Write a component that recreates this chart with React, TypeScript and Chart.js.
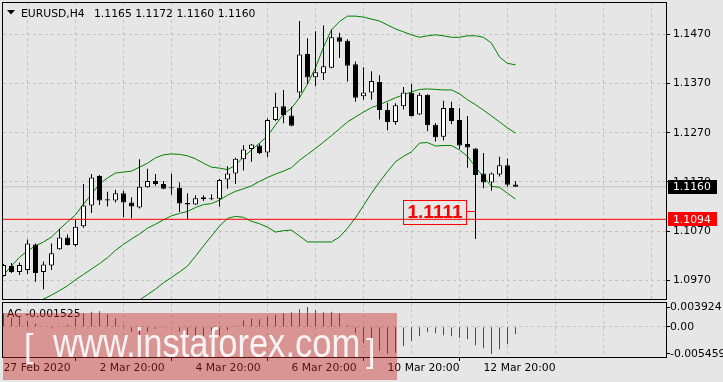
import React, { useEffect, useRef } from 'react';
import { Chart, registerables } from 'chart.js';

Chart.register(...registerables);

const W = 723;
const H = 382;

// ---------- text ----------
const symbolTitle = 'EURUSD,H4';
const headerQuote = '1.1165 1.1172 1.1160 1.1160';
const acTitle = 'AC -0.001525';
const watermarkText = 'www.instaforex.com';

// ---------- candles (H4, 27 Feb 2020 20:00 ... 13 Mar 2020) ----------
const opens = [
  1.0979, 1.0999, 1.0987, 1.0991, 1.1043, 1.0987, 1.1000, 1.1033, 1.1057, 1.1042,
  1.1080, 1.1122, 1.1182, 1.1135, 1.1132, 1.1147, 1.1128, 1.1118, 1.1159, 1.1172,
  1.1166, 1.1158, 1.1158, 1.1127, 1.1124, 1.1135, 1.1137, 1.1136, 1.1175, 1.1187,
  1.1216, 1.1237, 1.1244, 1.1230, 1.1296, 1.1324, 1.1305, 1.1352, 1.1430, 1.1383,
  1.1391, 1.1402, 1.1464, 1.1457, 1.1409, 1.1344, 1.1352, 1.1373, 1.1316, 1.1292,
  1.1324, 1.1351, 1.1307, 1.1347, 1.1286, 1.1262, 1.1320, 1.1296, 1.1247, 1.1238,
  1.1187, 1.1169, 1.1185, 1.1204, 1.1165,
];
const highs = [
  1.1003, 1.1005, 1.1006, 1.1053, 1.1045, 1.1008, 1.1045, 1.1075, 1.1063, 1.1093,
  1.1166, 1.1186, 1.1184, 1.1150, 1.1154, 1.1152, 1.1139, 1.1216, 1.1197, 1.1186,
  1.1172, 1.1187, 1.1169, 1.1147, 1.1143, 1.1143, 1.1145, 1.1176, 1.1202, 1.1219,
  1.1245, 1.1247, 1.1248, 1.1299, 1.1351, 1.1357, 1.1323, 1.1497, 1.1462, 1.1476,
  1.1488, 1.1480, 1.1473, 1.1460, 1.1415, 1.1403, 1.1395, 1.1387, 1.1331, 1.1330,
  1.1363, 1.1369, 1.1351, 1.1348, 1.1290, 1.1335, 1.1333, 1.1320, 1.1304, 1.1239,
  1.1229, 1.1189, 1.1221, 1.1217, 1.1172,
];
const lows = [
  1.0978, 1.0985, 1.0981, 1.0983, 1.0967, 1.0952, 1.0991, 1.1032, 1.1041, 1.1038,
  1.1077, 1.1107, 1.1123, 1.1120, 1.1128, 1.1098, 1.1096, 1.1116, 1.1158, 1.1162,
  1.1155, 1.1144, 1.1109, 1.1094, 1.1123, 1.1131, 1.1133, 1.1120, 1.1156, 1.1166,
  1.1193, 1.1211, 1.1226, 1.1220, 1.1294, 1.1289, 1.1283, 1.1341, 1.1369, 1.1365,
  1.1377, 1.1401, 1.1422, 1.1374, 1.1333, 1.1337, 1.1337, 1.1297, 1.1275, 1.1286,
  1.1317, 1.1303, 1.1306, 1.1273, 1.1252, 1.1254, 1.1287, 1.1237, 1.1199, 1.1054,
  1.1157, 1.1152, 1.1181, 1.1160, 1.1160,
];
const closes = [
  1.1001, 1.0987, 1.1001, 1.1045, 1.0985, 1.1002, 1.1025, 1.1057, 1.1042, 1.1079,
  1.1122, 1.1179, 1.1132, 1.1132, 1.1147, 1.1128, 1.1120, 1.1160, 1.1172, 1.1166,
  1.1156, 1.1157, 1.1126, 1.1124, 1.1137, 1.1139, 1.1135, 1.1174, 1.1187, 1.1217,
  1.1236, 1.1246, 1.1229, 1.1296, 1.1323, 1.1306, 1.1284, 1.1429, 1.1382, 1.1393,
  1.1405, 1.1464, 1.1455, 1.1406, 1.1341, 1.1352, 1.1375, 1.1316, 1.1292, 1.1326,
  1.1352, 1.1304, 1.1347, 1.1285, 1.1261, 1.1320, 1.1294, 1.1244, 1.1240, 1.1184,
  1.1169, 1.1187, 1.1204, 1.1164, 1.1160,
];

// ---------- Bollinger bands ----------
const bbUpper = [
  1.0981, 1.0999, 1.1017, 1.1030, 1.1040, 1.1048, 1.1058, 1.1074, 1.1089, 1.1103,
  1.1125, 1.1145, 1.1166, 1.1178, 1.1188, 1.1190, 1.1192, 1.1200, 1.1208, 1.1219,
  1.1225, 1.1227, 1.1226, 1.1223, 1.1217, 1.1208, 1.1200, 1.1198, 1.1195, 1.1204,
  1.1221, 1.1235, 1.1249, 1.1263, 1.1286, 1.1308, 1.1320, 1.1341, 1.1369, 1.1402,
  1.1444, 1.1479, 1.1496, 1.1507, 1.1507, 1.1505, 1.1501, 1.1497, 1.1489, 1.1481,
  1.1475, 1.1469, 1.1464, 1.1467, 1.1469, 1.1467, 1.1464, 1.1464, 1.1467, 1.1467,
  1.1464, 1.1452, 1.1424, 1.1411, 1.1408,
];
const bbMiddle = [
  1.0887, 1.0897, 1.0906, 1.0916, 1.0924, 1.0932, 1.0940, 1.0949, 1.0959, 1.0971,
  1.0982, 1.0993, 1.1004, 1.1016, 1.1031, 1.1043, 1.1054, 1.1064, 1.1076, 1.1084,
  1.1093, 1.1101, 1.1106, 1.1110, 1.1118, 1.1124, 1.1126, 1.1133, 1.1143, 1.1151,
  1.1156, 1.1162, 1.1171, 1.1179, 1.1186, 1.1192, 1.1199, 1.1214, 1.1226, 1.1238,
  1.1251, 1.1264, 1.1278, 1.1292, 1.1302, 1.1312, 1.1321, 1.1327, 1.1334, 1.1341,
  1.1347, 1.1353, 1.1358, 1.1359, 1.1358, 1.1357, 1.1357, 1.1349, 1.1337, 1.1327,
  1.1316, 1.1304, 1.1292, 1.1280, 1.1269,
];
const bbLower = [
  null, null, null, null, null, null, null, null, null, null,
  null, null, null, null, null, 1.0908, 1.0919, 1.0930, 1.0941, 1.0952,
  1.0965, 1.0976, 1.0987, 1.0999, 1.1019, 1.1040, 1.1060, 1.1080, 1.1096, 1.1100,
  1.1098, 1.1090, 1.1085, 1.1078, 1.1068, 1.1071, 1.1072, 1.1060, 1.1048, 1.1048,
  1.1048, 1.1048, 1.1058, 1.1076, 1.1097, 1.1122, 1.1147, 1.1170, 1.1191, 1.1211,
  1.1222, 1.1231, 1.1249, 1.1250, 1.1243, 1.1244, 1.1244, 1.1235, 1.1222, 1.1200,
  1.1180, 1.1161, 1.1159, 1.1147, 1.1135,
];

// ---------- Accelerator Oscillator ----------
const acValues = [
  0.0027, 0.0018, 0.0021, 0.0012, 0.0006, -0.0001, -0.0003, -0.0001, 0.0004, 0.0017,
  0.0027, 0.0030, 0.0031, 0.0025, 0.0017, 0.0003, -0.0010, -0.0017, -0.0010, -0.0004,
  -0.0002, 0.0001, -0.0010, -0.0022, -0.0027, -0.0030, -0.0024, -0.0017, -0.0007, 0.0002,
  0.0013, 0.0016, 0.0015, 0.0020, 0.0024, 0.0027, 0.0029, 0.0035, 0.003924, 0.0033,
  0.0029, 0.0030, 0.0027, 0.0003, -0.0013, -0.0033, -0.0039, -0.0048, -0.0054, -0.0052,
  -0.0039, -0.0028, -0.0019, -0.0011, -0.0013, -0.0017, -0.0019, -0.0022, -0.0025, -0.0037,
  -0.0043, -0.005459, -0.0045, -0.0035, -0.001525,
];
const acUp = [
  1, 1, 0, 0, 0, 0, 0, 1, 1, 1,
  1, 1, 1, 0, 0, 0, 0, 0, 1, 1,
  1, 1, 0, 0, 0, 0, 1, 1, 1, 1,
  1, 1, 0, 1, 1, 1, 1, 1, 1, 0,
  0, 1, 0, 0, 0, 0, 0, 0, 0, 1,
  1, 1, 1, 1, 0, 0, 0, 0, 0, 0,
  0, 0, 1, 1, 1,
];

// ---------- axes ----------
const priceTicks = [1.097, 1.107, 1.117, 1.127, 1.137, 1.147];
const acTicks = [0.003924, 0, -0.005459];
const acTickLabels = ['0.003924', '0.00', '-0.005459'];
const gridIndex = [6, 12, 18, 24, 30, 36, 42, 48, 54, 60, 66, 72, 78];
const dateTickIndex = [0, 12, 24, 36, 48, 60];
const dateTickLabels = ['27 Feb 2020', '2 Mar 20:00', '4 Mar 20:00', '6 Mar 20:00', '10 Mar 20:00', '12 Mar 20:00'];

// ---------- levels ----------
const bidPrice = 1.116;
const levelPrice = 1.1094;
const markPrice = 1.1111;
const markBar = 59;

// ---------- layout / style ----------
const BG = '#e6e6e6';
const GRID = '#c3c3c3';
const GREEN = '#008000';
const RED = '#ff0000';
const FONT = 'DejaVu Sans, Verdana, sans-serif';
const FS = 10.8;
const X_MIN = -0.0625;
const X_MAX = 82.8125;
const PRICE_MIN = 1.093;
const PRICE_MAX = 1.15357;
const AC_MIN = -0.00606;
const AC_MAX = 0.00474;

const idx = opens.map((_, i) => i);

const fixWidth = (w: number) => (s: any) => {
  s.width = w;
  s.paddingTop = 0;
  s.paddingBottom = 0;
};

const mainPlugin = {
  id: 'mainDecor',
  afterDraw(chart: any) {
    const { ctx, chartArea: a, scales } = chart;
    const x = scales.x;
    const y = scales.y;
    ctx.save();
    // frame
    ctx.strokeStyle = '#000';
    ctx.lineWidth = 1;
    ctx.strokeRect(a.left - 0.5, a.top + 0.5, a.right - a.left + 1, a.bottom - a.top - 1);
    // header
    ctx.fillStyle = '#000';
    ctx.beginPath();
    ctx.moveTo(7, 10);
    ctx.lineTo(15, 10);
    ctx.lineTo(11, 14.5);
    ctx.closePath();
    ctx.fill();
    ctx.font = `${FS}px ${FONT}`;
    ctx.textBaseline = 'alphabetic';
    ctx.textAlign = 'left';
    ctx.fillText(symbolTitle, 21, 16.5);
    ctx.fillText(headerQuote, 94, 16.5);
    // price labels on the axis
    const boxL = a.right + 2;
    const drawBox = (v: number, bg: string) => {
      const py = y.getPixelForValue(v);
      ctx.fillStyle = bg;
      ctx.fillRect(boxL, Math.round(py) - 7, 49, 14);
      ctx.fillStyle = '#fff';
      ctx.textBaseline = 'middle';
      ctx.fillText(v.toFixed(4), a.right + 7, py + 0.5);
    };
    drawBox(bidPrice, '#000');
    drawBox(levelPrice, RED);
    // callout for the marked level
    const px = x.getPixelForValue(markBar);
    const py = Math.round(y.getPixelForValue(markPrice)) + 0.5;
    const bw = 63;
    const bh = 24;
    const br = Math.round(px) - 10 + 0.5;
    const bt = Math.round(py - bh / 2);
    ctx.strokeStyle = RED;
    ctx.lineWidth = 1;
    ctx.strokeRect(br - bw, bt + 0.5, bw, bh);
    ctx.beginPath();
    ctx.moveTo(br, py);
    ctx.lineTo(px, py);
    ctx.stroke();
    ctx.fillStyle = RED;
    ctx.font = `bold 19px "Liberation Sans", Arial, sans-serif`;
    ctx.textAlign = 'center';
    ctx.textBaseline = 'middle';
    ctx.fillText(markPrice.toFixed(4), br - bw / 2, py + 1);
    ctx.restore();
  },
};

const subPlugin = {
  id: 'subDecor',
  afterDraw(chart: any) {
    const { ctx, chartArea: a } = chart;
    ctx.save();
    ctx.strokeStyle = '#000';
    ctx.lineWidth = 1;
    ctx.strokeRect(a.left - 0.5, a.top - 0.5, a.right - a.left + 1, a.bottom - a.top + 1);
    ctx.fillStyle = '#000';
    ctx.font = `${FS}px ${FONT}`;
    ctx.textBaseline = 'alphabetic';
    ctx.textAlign = 'left';
    ctx.fillText(acTitle, 7, 316.5);
    ctx.restore();
  },
};

const levelLine = (v: number, color: string, order: number) => ({
  type: 'line',
  label: 'level ' + v,
  data: [
    { x: X_MIN, y: v },
    { x: X_MAX, y: v },
  ],
  borderColor: color,
  borderWidth: 1,
  pointRadius: 0,
  tension: 0,
  order,
});

function mainConfig(): any {
  return {
    type: 'bar',
    data: {
      datasets: [
        levelLine(levelPrice, RED, -1),
        {
          type: 'bar',
          label: 'body',
          data: idx.map((k) => ({ x: k, y: [opens[k], closes[k]] })),
          backgroundColor: idx.map((k) => (closes[k] >= opens[k] ? '#ffffff' : '#000000')),
          borderColor: '#000000',
          borderWidth: 1,
          borderSkipped: false,
          barThickness: 5,
          maxBarThickness: 5,
          grouped: false,
          inflateAmount: 0,
          minBarLength: 1,
          order: 0,
        },
        {
          type: 'bar',
          label: 'wick',
          data: idx.map((k) => ({ x: k, y: [lows[k], highs[k]] })),
          backgroundColor: '#000000',
          borderWidth: 0,
          barThickness: 1,
          maxBarThickness: 1,
          grouped: false,
          inflateAmount: 0,
          order: 1,
        },
        {
          type: 'line',
          label: 'upper',
          data: idx.map((k) => ({ x: k, y: bbUpper[k] })),
          borderColor: GREEN,
          borderWidth: 1,
          pointRadius: 0,
          tension: 0,
          order: 2,
        },
        {
          type: 'line',
          label: 'middle',
          data: idx.map((k) => ({ x: k, y: bbMiddle[k] })),
          borderColor: GREEN,
          borderWidth: 1,
          pointRadius: 0,
          tension: 0,
          order: 2,
        },
        {
          type: 'line',
          label: 'lower',
          data: idx.map((k) => ({ x: k, y: bbLower[k] })),
          borderColor: GREEN,
          borderWidth: 1,
          pointRadius: 0,
          tension: 0,
          order: 2,
        },
        levelLine(bidPrice, '#c0c0c0', 3),
      ],
    },
    options: {
      animation: false,
      responsive: false,
      maintainAspectRatio: false,
      devicePixelRatio: 1,
      events: [],
      layout: { autoPadding: false, padding: { left: 3, top: 2, right: 0, bottom: 82 } },
      plugins: { legend: { display: false }, tooltip: { enabled: false }, title: { display: false } },
      scales: {
        x: {
          type: 'linear',
          min: X_MIN,
          max: X_MAX,
          offset: false,
          ticks: { display: false },
          grid: { color: GRID, lineWidth: 1, drawTicks: false },
          border: { display: false, dash: [3, 3] },
          afterBuildTicks: (s: any) => {
            s.ticks = gridIndex.map((v) => ({ value: v }));
          },
          afterFit: (s: any) => {
            s.height = 0;
            s.paddingLeft = 0;
            s.paddingRight = 0;
          },
        },
        y: {
          type: 'linear',
          position: 'right',
          min: PRICE_MIN,
          max: PRICE_MAX,
          ticks: {
            color: '#000',
            padding: 3,
            font: { family: FONT, size: FS },
            callback: (v: number) => v.toFixed(4),
          },
          grid: { color: GRID, lineWidth: 1, tickLength: 4, tickColor: '#000' },
          border: { display: false, dash: [3, 3] },
          afterBuildTicks: (s: any) => {
            s.ticks = priceTicks.map((v) => ({ value: v }));
          },
          afterFit: fixWidth(57),
        },
      },
    },
    plugins: [mainPlugin],
  };
}

function subConfig(): any {
  return {
    type: 'bar',
    data: {
      datasets: [
        {
          type: 'bar',
          label: 'AC',
          data: idx.map((k) => ({ x: k, y: acValues[k] })),
          backgroundColor: idx.map((k) => (acUp[k] ? GREEN : RED)),
          borderWidth: 0,
          barThickness: 1,
          maxBarThickness: 1,
          grouped: false,
          inflateAmount: 0,
        },
      ],
    },
    options: {
      animation: false,
      responsive: false,
      maintainAspectRatio: false,
      devicePixelRatio: 1,
      events: [],
      layout: { autoPadding: false, padding: { left: 3, top: 303, right: 0, bottom: 0 } },
      plugins: { legend: { display: false }, tooltip: { enabled: false }, title: { display: false } },
      scales: {
        x: {
          type: 'linear',
          min: X_MIN,
          max: X_MAX,
          offset: false,
          ticks: {
            color: '#000',
            padding: 1,
            align: 'start',
            maxRotation: 0,
            autoSkip: false,
            font: { family: FONT, size: FS },
            callback: (v: number) => {
              const i = dateTickIndex.indexOf(v);
              return i >= 0 ? dateTickLabels[i] : '';
            },
          },
          grid: {
            color: (c: any) => (c.tick && c.tick.value > 0 ? GRID : 'rgba(0,0,0,0)'),
            tickColor: (c: any) => (c.tick && dateTickIndex.indexOf(c.tick.value) >= 0 ? '#000' : 'rgba(0,0,0,0)'),
            lineWidth: 1,
            tickLength: 4,
          },
          border: { display: false, dash: [3, 3] },
          afterBuildTicks: (s: any) => {
            s.ticks = [0, ...gridIndex].map((v) => ({ value: v }));
          },
          afterFit: (s: any) => {
            s.height = H - 357;
            s.paddingLeft = 0;
            s.paddingRight = 0;
          },
        },
        y: {
          type: 'linear',
          position: 'right',
          min: AC_MIN,
          max: AC_MAX,
          ticks: {
            color: '#000',
            padding: 0,
            font: { family: FONT, size: FS },
            callback: (v: number) => {
              const i = acTicks.indexOf(v);
              return i >= 0 ? acTickLabels[i] : '';
            },
          },
          grid: {
            color: (c: any) => (c.tick && c.tick.value === 0 ? GRID : 'rgba(0,0,0,0)'),
            lineWidth: 1,
            tickLength: 4,
            tickColor: '#000',
          },
          border: { display: false, dash: [3, 3] },
          afterBuildTicks: (s: any) => {
            s.ticks = acTicks.map((v) => ({ value: v }));
          },
          afterFit: fixWidth(57),
        },
      },
    },
    plugins: [subPlugin],
  };
}

const wmFont = '"Liberation Sans", Arial, sans-serif';

export default function App() {
  const mainRef = useRef<HTMLCanvasElement>(null);
  const subRef = useRef<HTMLCanvasElement>(null);

  useEffect(() => {
    const main = new Chart(mainRef.current as HTMLCanvasElement, mainConfig());
    const sub = new Chart(subRef.current as HTMLCanvasElement, subConfig());
    return () => {
      main.destroy();
      sub.destroy();
    };
  }, []);

  return (
    <div style={{ position: 'absolute', left: 0, top: 0, width: W, height: H, background: BG, overflow: 'hidden' }}>
      <canvas ref={mainRef} width={W} height={H} style={{ position: 'absolute', left: 0, top: 0, width: W, height: H }} />
      <canvas ref={subRef} width={W} height={H} style={{ position: 'absolute', left: 0, top: 0, width: W, height: H }} />
      <div
        style={{
          position: 'absolute',
          left: 3,
          top: 313,
          width: 394,
          height: 67,
          background: 'rgba(200, 40, 40, 0.43)',
          color: 'rgba(255,255,255,0.88)',
          fontFamily: wmFont,
          whiteSpace: 'nowrap',
        }}
      >
        <span style={{ position: 'absolute', left: 21, top: 15, fontSize: 34, lineHeight: '34px' }}>[</span>
        <span
          style={{
            position: 'absolute',
            left: 50,
            top: 10,
            fontSize: 40,
            lineHeight: '40px',
            transform: 'scaleX(0.864)',
            transformOrigin: '0 0',
          }}
        >
          {watermarkText}
        </span>
        <span style={{ position: 'absolute', left: 363, top: 20, fontSize: 34, lineHeight: '34px' }}>]</span>
      </div>
    </div>
  );
}
